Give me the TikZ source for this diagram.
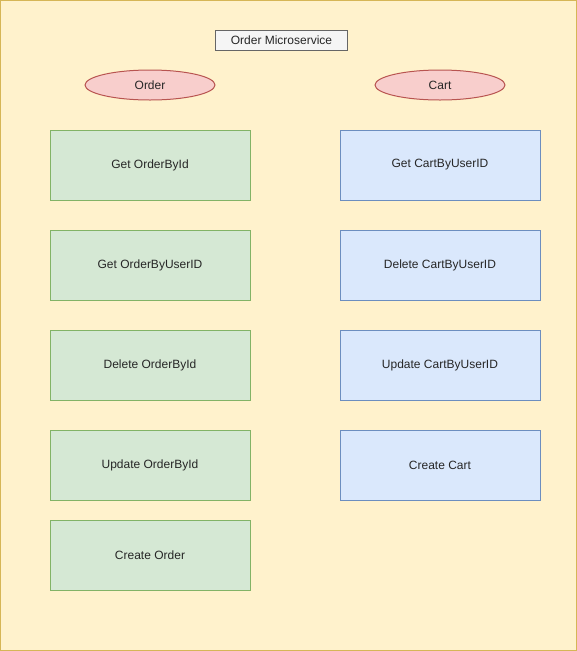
\documentclass[tikz,border=0pt]{standalone}
\usepackage{fontspec}
\setmainfont{Liberation Sans}
\usetikzlibrary{shapes.geometric}

\definecolor{bgfill}{HTML}{FFF2CC}
\definecolor{bgdraw}{HTML}{D6B656}
\definecolor{gfill}{HTML}{D5E8D4}
\definecolor{gdraw}{HTML}{82B366}
\definecolor{bfill}{HTML}{DAE8FC}
\definecolor{bdraw}{HTML}{6C8EBF}
\definecolor{rfill}{HTML}{F8CECC}
\definecolor{rdraw}{HTML}{B85450}
\definecolor{tfill}{HTML}{F5F5F5}
\definecolor{tdraw}{HTML}{666666}

\begin{document}
\begin{tikzpicture}
        [x=1pt, y=-1pt,
        every node/.style={font=\fontsize{12}{14}\selectfont, text=black!85},
        title/.style={rectangle, draw=tdraw, fill=tfill, line width=1pt, minimum width=132pt, minimum height=20pt, inner sep=0pt},
        group/.style={ellipse, draw=rdraw, fill=rfill, line width=1pt, minimum width=130pt, minimum height=30pt, inner sep=0pt},
        order/.style={rectangle, draw=gdraw, fill=gfill, line width=1pt, minimum width=200pt, minimum height=70pt, inner sep=0pt},
        cart/.style={rectangle, draw=bdraw, fill=bfill, line width=1pt, minimum width=200pt, minimum height=70pt, inner sep=0pt}]

        \useasboundingbox (0,0) rectangle (577,651);

        % container
        \draw[draw=bgdraw, fill=bgfill, line width=1pt] (0.5,0.5) rectangle (576.5,650.5);

        \node[title] (ms) at (281.5,40.5) {Order Microservice};

        % group headers
        \node[group] (ord) at (150,85) {Order};
        \node[group] (crt) at (440,85) {Cart};

        % order operations
        \node[order] (o1) at (150,165) {Get OrderById};
        \node[order] (o2) at (150,265) {Get OrderByUserID};
        \node[order] (o3) at (150,365) {Delete OrderById};
        \node[order] (o4) at (150,465) {Update OrderById};
        \node[order] (o5) at (150,555) {Create Order};

        % cart operations
        \node[cart] (c1) at (440,165) {Get CartByUserID};
        \node[cart] (c2) at (440,265) {Delete CartByUserID};
        \node[cart] (c3) at (440,365) {Update CartByUserID};
        \node[cart] (c4) at (440,465) {Create Cart};

    \end{tikzpicture}
\end{document}
